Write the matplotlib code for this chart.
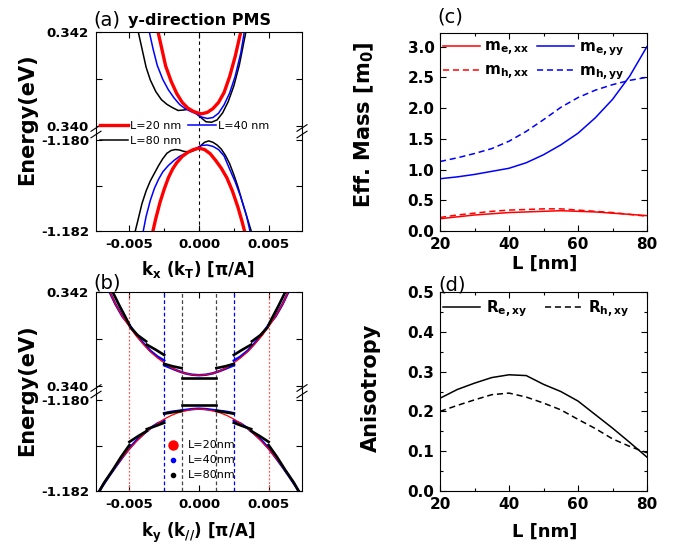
import numpy as np
import matplotlib
matplotlib.use("Agg")
import matplotlib.pyplot as plt
from matplotlib.lines import Line2D
from matplotlib.ticker import FixedLocator, FixedFormatter, MultipleLocator, NullLocator, FormatStrFormatter

plt.rcParams.update({
    "font.family": "DejaVu Sans",
    "font.weight": "bold",
    "axes.unicode_minus": False,
    "mathtext.default": "regular",
    "axes.linewidth": 0.8,
})

W, H = 674, 551

# ---------------- (a) subbands along k_x ----------------
kx_cb_20 = [-0.0030, -0.0027, -0.0024, -0.0020, -0.0016, -0.0012, -0.0008, -0.0004, 0.0000, 0.0002,
            0.0006, 0.0010, 0.0014, 0.0018, 0.0022, 0.0026, 0.0030]
E_cb_20 = [0.34208, 0.34168, 0.34128, 0.34095, 0.34069, 0.34050, 0.34038, 0.34031, 0.34027, 0.34026,
           0.34029, 0.34037, 0.34050, 0.34071, 0.34105, 0.34148, 0.34200]
kx_cb_40 = [-0.0036, -0.0033, -0.0030, -0.0026, -0.0022, -0.0018, -0.0014, -0.0010, -0.0006, -0.0002,
            0.0002, 0.0006, 0.0010, 0.0014, 0.0018, 0.0022, 0.0026, 0.0030, 0.0033]
E_cb_40 = [0.34204, 0.34164, 0.34129, 0.34099, 0.34077, 0.34060, 0.34046, 0.34037, 0.34031, 0.34026,
           0.34019, 0.34016, 0.34018, 0.34027, 0.34045, 0.34070, 0.34106, 0.34155, 0.34208]
kx_cb_80 = [-0.0044, -0.0041, -0.0038, -0.0035, -0.0031, -0.0027, -0.0023, -0.0019, -0.0015, -0.0011,
            -0.0007, -0.0003, 0.0001, 0.0005, 0.0009, 0.0013, 0.0017, 0.0021, 0.0025, 0.0029, 0.0034]
E_cb_80 = [0.34205, 0.34165, 0.34125, 0.34098, 0.34073, 0.34056, 0.34046, 0.34039, 0.34033, 0.34034,
           0.34036, 0.34029, 0.34019, 0.34009, 0.34008, 0.34013, 0.34028, 0.34052, 0.34085, 0.34130, 0.34205]

kx_vb_20 = [-0.0034, -0.0031, -0.0028, -0.0025, -0.0022, -0.0019, -0.0016, -0.0012, -0.0008, -0.0004,
            0.0000, 0.0004, 0.0008, 0.0012, 0.0016, 0.0020, 0.0024, 0.0028, 0.0031, 0.0034]
E_vb_20 = [-1.18212, -1.18172, -1.18137, -1.18108, -1.18083, -1.18064, -1.18050, -1.18036, -1.18027, -1.18021,
           -1.18018, -1.18021, -1.18030, -1.18045, -1.18062, -1.18083, -1.18112, -1.18148, -1.18180, -1.18215]
kx_vb_40 = [-0.0041, -0.0038, -0.0035, -0.0032, -0.0029, -0.0026, -0.0022, -0.0018, -0.0014, -0.0010, -0.0006,
            -0.0002, 0.0002, 0.0006, 0.0010, 0.0014, 0.0018, 0.0022, 0.0026, 0.0030, 0.0034, 0.0037]
E_vb_40 = [-1.18215, -1.18168, -1.18133, -1.18106, -1.18086, -1.18070, -1.18056, -1.18045, -1.18036, -1.18030,
           -1.18025, -1.18018, -1.18012, -1.18011, -1.18014, -1.18021, -1.18035, -1.18064, -1.18092, -1.18125,
           -1.18165, -1.18205]
kx_vb_80 = [-0.0047, -0.0044, -0.0041, -0.0038, -0.0035, -0.0032, -0.0029, -0.0026, -0.0023, -0.0020,
            -0.0017, -0.0014, -0.0011, -0.0008, -0.0005, -0.0002, 0.0001, 0.0004, 0.0007, 0.0010,
            0.0013, 0.0016, 0.0019, 0.0022, 0.0025, 0.0028, 0.0031, 0.0034, 0.0038]
E_vb_80 = [-1.18215, -1.18178, -1.18140, -1.18112, -1.18090, -1.18073, -1.18056, -1.18041, -1.18029, -1.18023,
           -1.18021, -1.18022, -1.18025, -1.18026, -1.18025, -1.18021, -1.18013, -1.18005, -1.18002, -1.18005,
           -1.18011, -1.18020, -1.18034, -1.18052, -1.18076, -1.18103, -1.18135, -1.18165, -1.18205]

# ---------------- (b) folded subbands along k_y ----------------
ky_20 = [-0.0074, -0.007, -0.0065, -0.006, -0.0055, -0.005, -0.0045, -0.004, -0.0035, -0.003, -0.0025,
         -0.002, -0.0015, -0.001, -0.0005, 0.0, 0.0005, 0.001, 0.0015, 0.002, 0.0025, 0.003, 0.0035,
         0.004, 0.0045, 0.005, 0.0055, 0.006, 0.0065, 0.007, 0.0074]
Ey_cb_20 = [0.34265, 0.34240, 0.34206, 0.34174, 0.34148, 0.34126, 0.34106, 0.34089, 0.34073, 0.34060, 0.34049,
            0.34039, 0.34032, 0.34027, 0.34024, 0.34023, 0.34024, 0.34027, 0.34032, 0.34039, 0.34049, 0.34060,
            0.34073, 0.34089, 0.34106, 0.34126, 0.34148, 0.34174, 0.34206, 0.34240, 0.34265]
Ey_vb_20 = [-1.18213, -1.18192, -1.18169, -1.18147, -1.18126, -1.18108, -1.18091, -1.18076, -1.18063, -1.18052,
            -1.18042, -1.18034, -1.18028, -1.18024, -1.18021, -1.18020, -1.18021, -1.18024, -1.18028, -1.18034,
            -1.18042, -1.18052, -1.18063, -1.18076, -1.18091, -1.18108, -1.18126, -1.18147, -1.18169, -1.18192,
            -1.18213]

ky_40_segs = [
    [-0.0074, -0.007, -0.0065, -0.006, -0.0055, -0.005, -0.0045, -0.004, -0.0035, -0.003, -0.0025],
    [-0.0025, -0.002, -0.0015, -0.001, -0.0005, 0.0, 0.0005, 0.001, 0.0015, 0.002, 0.0025],
    [0.0025, 0.003, 0.0035, 0.004, 0.0045, 0.005, 0.0055, 0.006, 0.0065, 0.007, 0.0074],
]
Ey_cb_40_segs = [
    [0.34262, 0.34236, 0.34205, 0.34174, 0.34148, 0.34130, 0.34109, 0.34091, 0.34075, 0.34063, 0.34054],
    [0.34044, 0.34038, 0.34032, 0.34027, 0.34024, 0.34023, 0.34024, 0.34027, 0.34032, 0.34038, 0.34044],
    [0.34054, 0.34063, 0.34075, 0.34091, 0.34109, 0.34130, 0.34148, 0.34174, 0.34205, 0.34236, 0.34262],
]
Ey_vb_40_segs = [
    [-1.18213, -1.18192, -1.18169, -1.18147, -1.18126, -1.18106, -1.18089, -1.18075, -1.18062, -1.18052, -1.18045],
    [-1.18029, -1.18026, -1.18024, -1.18022, -1.18020, -1.18019, -1.18020, -1.18022, -1.18024, -1.18026, -1.18029],
    [-1.18045, -1.18052, -1.18062, -1.18075, -1.18089, -1.18106, -1.18126, -1.18147, -1.18169, -1.18192, -1.18213],
]

ky_80_cb_segs = [
    [-0.0066, -0.0062, -0.0057, -0.0052, -0.0050],
    [-0.0049, -0.0044, -0.0038],
    [-0.00375, -0.0031, -0.0025],
    [-0.0025, -0.0019, -0.00125],
    [-0.00125, 0.00125],
    [0.00125, 0.0019, 0.0025],
    [0.0025, 0.0031, 0.00375],
    [0.0038, 0.0044, 0.0049],
    [0.0050, 0.0052, 0.0057, 0.0062, 0.0066],
]
Ey_cb_80_segs = [
    [0.34218, 0.34200, 0.34170, 0.34142, 0.34130],
    [0.34124, 0.34108, 0.34095],
    [0.34088, 0.34077, 0.34066],
    [0.34047, 0.34042, 0.34038],
    [0.34017, 0.34017],
    [0.34038, 0.34042, 0.34047],
    [0.34066, 0.34077, 0.34088],
    [0.34095, 0.34108, 0.34124],
    [0.34130, 0.34142, 0.34170, 0.34200, 0.34218],
]
ky_80_vb_segs = [
    [-0.0074, -0.0068, -0.0062, -0.0056, -0.0050],
    [-0.0050, -0.0044, -0.00375],
    [-0.00375, -0.0031, -0.0025],
    [-0.0025, -0.0019, -0.00125],
    [-0.00125, 0.00125],
    [0.00125, 0.0019, 0.0025],
    [0.0025, 0.0031, 0.00375],
    [0.00375, 0.0044, 0.0050],
    [0.0050, 0.0056, 0.0062, 0.0068, 0.0074],
]
Ey_vb_80_segs = [
    [-1.18213, -1.18181, -1.18154, -1.18125, -1.18099],
    [-1.18092, -1.18080, -1.18068],
    [-1.18064, -1.18057, -1.18050],
    [-1.18030, -1.18027, -1.18024],
    [-1.18011, -1.18011],
    [-1.18024, -1.18027, -1.18030],
    [-1.18050, -1.18057, -1.18064],
    [-1.18068, -1.18080, -1.18092],
    [-1.18099, -1.18125, -1.18154, -1.18181, -1.18213],
]

# zone boundaries pi/L for L = 20, 40, 80 nm
zone_edges = {20: 0.005, 40: 0.0025, 80: 0.00125}

# ---------------- (c) effective masses, (d) anisotropy ----------------
L_nm = [20, 25, 30, 35, 40, 45, 50, 55, 60, 65, 70, 75, 80]
m_e_xx = [0.20, 0.23, 0.26, 0.28, 0.30, 0.31, 0.32, 0.33, 0.32, 0.31, 0.29, 0.27, 0.25]
m_e_yy = [0.85, 0.88, 0.92, 0.97, 1.02, 1.11, 1.24, 1.40, 1.59, 1.84, 2.14, 2.52, 3.00]
m_h_xx = [0.22, 0.26, 0.29, 0.32, 0.34, 0.35, 0.36, 0.36, 0.34, 0.32, 0.30, 0.27, 0.24]
m_h_yy = [1.13, 1.19, 1.26, 1.34, 1.46, 1.62, 1.81, 2.01, 2.17, 2.29, 2.38, 2.45, 2.50]
R_e_xy = [0.233, 0.255, 0.271, 0.285, 0.292, 0.290, 0.268, 0.250, 0.226, 0.192, 0.158, 0.122, 0.085]
R_h_xy = [0.200, 0.215, 0.229, 0.242, 0.246, 0.236, 0.221, 0.204, 0.180, 0.157, 0.131, 0.112, 0.096]

RED, BLUE = "#ff0000", "#0000ff"

fig = plt.figure(figsize=(W / 100, H / 100), dpi=100)


def box(l, t, r, b):
    return [l / W, 1 - b / H, (r - l) / W, (b - t) / H]


def ftext(x, y, s, **kw):
    kw.setdefault("ha", "center")
    kw.setdefault("va", "center")
    fig.text(x / W, 1 - y / H, s, **kw)


# broken energy axis: two 2 meV windows stacked with a small gap
def e_fwd(E):
    E = np.asarray(E, dtype=float)
    return np.where(E > -0.5, (E - 0.340) / 0.002 * 94.0 + 105.0, (E + 1.182) / 0.002 * 91.0)


def e_inv(y):
    y = np.asarray(y, dtype=float)
    return np.where(y > 98.0, (y - 105.0) / 94.0 * 0.002 + 0.340, y / 91.0 * 0.002 - 1.182)


def band_axes(ax):
    ax.set_yscale("function", functions=(e_fwd, e_inv))
    ax.set_ylim(-1.182, 0.342)
    ax.set_xlim(-0.0074, 0.0074)
    ax.yaxis.set_major_locator(FixedLocator([-1.182, -1.181, -1.180, 0.340, 0.341, 0.342]))
    ax.yaxis.set_major_formatter(FixedFormatter(["-1.182", "", "-1.180", "0.340", "", "0.342"]))
    ax.yaxis.set_minor_locator(NullLocator())
    ax.xaxis.set_major_locator(FixedLocator([-0.005, 0.0, 0.005]))
    ax.xaxis.set_major_formatter(FormatStrFormatter("%.3f"))
    ax.xaxis.set_minor_locator(FixedLocator([-0.0025, 0.0025]))
    ax.tick_params(which="both", direction="in", top=True, right=True, width=0.8)
    ax.tick_params(which="major", length=4, labelsize=9.6, pad=5)
    ax.tick_params(which="minor", length=2.5)
    # break marks on both spines
    aw, ah = 206.0, 199.0
    for x0 in (0.0, 1.0):
        for yc in (0.5176, 0.4849):
            ax.plot([x0 - 5 / aw, x0 + 5 / aw], [yc - 3.3 / ah, yc + 3.3 / ah], color="black",
                    lw=0.8, transform=ax.transAxes, clip_on=False)


def lin_axes(ax, ymin, ymax, ymaj, ymin_step=None):
    ax.set_xlim(20, 80)
    ax.set_ylim(ymin, ymax)
    ax.xaxis.set_major_locator(MultipleLocator(20))
    ax.xaxis.set_minor_locator(MultipleLocator(10))
    ax.yaxis.set_major_locator(MultipleLocator(ymaj))
    if ymin_step:
        ax.yaxis.set_minor_locator(MultipleLocator(ymin_step))
    else:
        ax.yaxis.set_minor_locator(NullLocator())
    ax.yaxis.set_major_formatter(FormatStrFormatter("%.1f"))
    ax.tick_params(which="both", direction="in", top=True, right=True, width=0.8)
    ax.tick_params(which="major", length=4, labelsize=11, pad=4)
    ax.tick_params(which="minor", length=2.5)


ax_a = fig.add_axes(box(96, 32, 302, 231))
ax_b = fig.add_axes(box(96, 292, 302, 491))
ax_c = fig.add_axes(box(440, 33, 647, 231))
ax_d = fig.add_axes(box(440, 292, 647, 491))

# ---- panel (a)
band_axes(ax_a)
ax_a.axvline(0.0, color="black", lw=0.8, ls=(0, (3, 3)))
ax_a.plot(kx_cb_80, E_cb_80, color="black", lw=1.1)
ax_a.plot(kx_cb_40, E_cb_40, color=BLUE, lw=1.1)
ax_a.plot(kx_cb_20, E_cb_20, color=RED, lw=2.4)
ax_a.plot(kx_vb_80, E_vb_80, color="black", lw=1.1)
ax_a.plot(kx_vb_40, E_vb_40, color=BLUE, lw=1.1)
ax_a.plot(kx_vb_20, E_vb_20, color=RED, lw=2.4)
leg_a = [Line2D([], [], color=RED, lw=2.4, label="L=20 nm"),
         Line2D([], [], color="black", lw=1.1, label="L=80 nm"),
         Line2D([], [], color=BLUE, lw=1.1, label="L=40 nm")]
ax_a.legend(handles=leg_a, ncol=2, loc="upper left", bbox_to_anchor=(0.019, 0.555), frameon=False,
            borderpad=0, borderaxespad=0, handlelength=2.5, handletextpad=0.2, columnspacing=0.6,
            labelspacing=0.45, prop={"size": 8, "weight": "normal"})

# ---- panel (b)
band_axes(ax_b)
for L, col, ls in ((20, "#ff5555", (0, (1.5, 1.5))), (40, BLUE, (0, (3, 2))), (80, "#444444", (0, (3, 2)))):
    for s in (-1, 1):
        ax_b.axvline(s * zone_edges[L], color=col, lw=0.9, ls=ls)
for ks, es in zip(ky_40_segs, Ey_cb_40_segs):
    ax_b.plot(ks, es, color=BLUE, lw=1.8)
for ks, es in zip(ky_40_segs, Ey_vb_40_segs):
    ax_b.plot(ks, es, color=BLUE, lw=1.8)
ax_b.plot(ky_20, Ey_cb_20, color=RED, lw=0.9)
ax_b.plot(ky_20, Ey_vb_20, color=RED, lw=0.9)
for ks, es in zip(ky_80_cb_segs, Ey_cb_80_segs):
    ax_b.plot(ks, es, color="black", lw=1.9)
for ks, es in zip(ky_80_vb_segs, Ey_vb_80_segs):
    ax_b.plot(ks, es, color="black", lw=1.9)
leg_b = [Line2D([], [], ls="none", marker="o", ms=6.5, color=RED, label="L=20nm"),
         Line2D([], [], ls="none", marker="o", ms=3, color=BLUE, label="L=40nm"),
         Line2D([], [], ls="none", marker="o", ms=3, color="black", label="L=80nm")]
ax_b.legend(handles=leg_b, loc="upper left", bbox_to_anchor=(0.347, 0.254), frameon=False,
            borderpad=0, borderaxespad=0, handlelength=1.0, handletextpad=0.8, labelspacing=0.45,
            prop={"size": 8, "weight": "normal"})

# ---- panel (c)
lin_axes(ax_c, 0.0, 3.22, 0.5)
ax_c.plot(L_nm, m_e_xx, color=RED, lw=1.1)
ax_c.plot(L_nm, m_h_xx, color=RED, lw=1.1, ls=(0, (4, 2.5)))
ax_c.plot(L_nm, m_e_yy, color=BLUE, lw=1.1)
ax_c.plot(L_nm, m_h_yy, color=BLUE, lw=1.1, ls=(0, (4, 2.5)))
leg_c = [Line2D([], [], color=RED, lw=1.1, label="m$_{e,xx}$"),
         Line2D([], [], color=RED, lw=1.1, ls=(0, (4, 2.5)), label="m$_{h,xx}$"),
         Line2D([], [], color=BLUE, lw=1.1, label="m$_{e,yy}$"),
         Line2D([], [], color=BLUE, lw=1.1, ls=(0, (4, 2.5)), label="m$_{h,yy}$")]
ax_c.legend(handles=leg_c, ncol=2, loc="upper left", bbox_to_anchor=(0.0, 0.985), frameon=False,
            borderpad=0, borderaxespad=0.2, handlelength=2.4, handletextpad=0.3, columnspacing=0.5,
            labelspacing=0.35, prop={"size": 11, "weight": "bold"})

# ---- panel (d)
lin_axes(ax_d, 0.0, 0.5, 0.1, 0.05)
ax_d.plot(L_nm, R_e_xy, color="black", lw=1.1)
ax_d.plot(L_nm, R_h_xy, color="black", lw=1.1, ls=(0, (4, 2.5)))
leg_d = [Line2D([], [], color="black", lw=1.1, label="R$_{e,xy}$"),
         Line2D([], [], color="black", lw=1.1, ls=(0, (4, 2.5)), label="R$_{h,xy}$")]
ax_d.legend(handles=leg_d, ncol=2, loc="upper left", bbox_to_anchor=(0.0, 0.985), frameon=False,
            borderpad=0, borderaxespad=0.2, handlelength=2.4, handletextpad=0.4, columnspacing=1.2,
            prop={"size": 11, "weight": "bold"})

# ---- titles, axis labels, panel tags
ftext(93, 20, "(a)", ha="left", fontsize=14, weight="normal")
ftext(199, 20, "y-direction PMS", fontsize=11.5)
ftext(93, 283, "(b)", ha="left", fontsize=14, weight="normal")
ftext(437, 17, "(c)", ha="left", fontsize=14, weight="normal")
ftext(438, 285, "(d)", ha="left", fontsize=14, weight="normal")

ftext(27, 119, "Energy(eV)", rotation=90, fontsize=15)
ftext(27, 390, "Energy(eV)", rotation=90, fontsize=15)
ftext(364, 125, "Eff. Mass [m$_0$]", rotation=90, fontsize=15)
ftext(371, 388, "Anisotropy", rotation=90, fontsize=15)
ftext(198, 270, "k$_x$ (k$_T$) [\u03c0/A]", fontsize=12)
ftext(198, 533, "k$_y$ (k$_{//}$) [\u03c0/A]", fontsize=12)
ftext(545, 264, "L [nm]", fontsize=13)
ftext(545, 532, "L [nm]", fontsize=13)

fig.savefig("out.png", dpi=100)
